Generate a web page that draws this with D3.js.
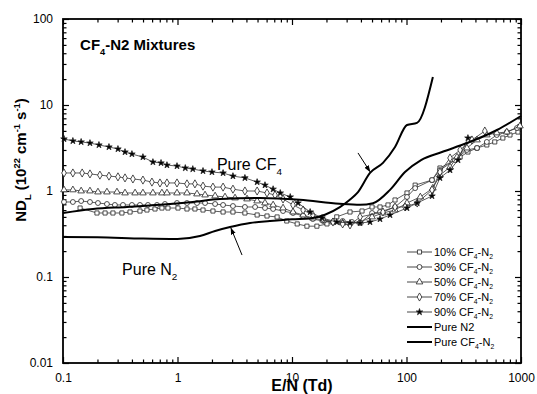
<!DOCTYPE html>
<html>
<head>
<meta charset="utf-8">
<script src="https://cdn.jsdelivr.net/npm/d3@7"></script>
<style>
  body { margin: 0; background: #fff; }
  svg { display: block; }
  text { font-family: "Liberation Sans", Arial, sans-serif; fill: #000; }
</style>
</head>
<body>
<div id="chart"></div>
<script>
// E/N (Td) and ND_L (1e22 cm^-1 s^-1)
const en10 = [0.141,0.198,0.233,0.273,0.327,0.385,0.470,0.541,0.636,0.731,0.825,1.01,1.21,1.42,1.67,2.04,2.50,3.05,3.88,4.96,6.05,7.41,9.0,11.1,13.5,16.5,20.2,24.6,32.1,40.9,50.0,58.7,68.9,79.4,101,119,167,196,294,344,413,503,590,694,801,941];
const nd10 = [0.634,0.555,0.555,0.555,0.555,0.570,0.585,0.601,0.618,0.634,0.634,0.634,0.618,0.618,0.601,0.585,0.570,0.570,0.555,0.526,0.512,0.499,0.448,0.414,0.39,0.39,0.414,0.50,0.570,0.585,0.652,0.652,0.688,0.786,0.948,1.17,1.34,1.85,2.48,2.84,3.16,3.43,3.72,4.13,4.48,4.85];

const en30 = [0.102,0.122,0.144,0.172,0.202,0.242,0.284,0.334,0.400,0.470,0.552,0.662,0.777,0.990,1.21,1.48,1.74,2.13,2.50,3.05,3.88,4.76,5.81,6.84,8.35,10.2,12.5,15.2,18.7,22.8,27.7,33.4,39.3,50.0,58.7,79.4,101,119,167,196,265,337,413,503,614,752,922];
const nd30 = [0.745,0.745,0.765,0.745,0.725,0.706,0.688,0.688,0.688,0.688,0.688,0.688,0.706,0.725,0.725,0.725,0.725,0.706,0.688,0.669,0.652,0.652,0.634,0.618,0.585,0.555,0.512,0.472,0.448,0.436,0.448,0.436,0.425,0.555,0.570,0.652,0.852,1.08,1.34,1.75,2.29,3.00,3.16,3.72,4.48,4.85,5.40];

const en50 = [0.102,0.122,0.144,0.172,0.202,0.242,0.296,0.348,0.426,0.499,0.610,0.731,0.809,0.990,1.21,1.48,1.74,2.13,2.60,3.18,4.05,4.96,5.81,6.84,8.35,10.2,12.5,15.2,18.7,22.8,27.7,39.3,50.0,62.3,79.4,101,132,170,196,240,276,337,413,503,614,752,979];
const nd50 = [1.03,1.03,1.00,1.00,0.973,0.973,0.973,0.948,0.948,0.948,0.948,0.948,0.948,0.948,0.948,0.923,0.898,0.875,0.852,0.829,0.807,0.765,0.725,0.688,0.634,0.570,0.526,0.485,0.460,0.436,0.425,0.436,0.499,0.555,0.601,0.725,0.852,1.08,1.53,1.90,2.48,3.16,3.92,4.48,4.73,4.85,5.70];

const en70 = [0.102,0.122,0.147,0.172,0.210,0.252,0.302,0.348,0.408,0.499,0.598,0.703,0.809,0.990,1.21,1.42,1.67,2.04,2.50,3.05,3.88,4.96,6.05,7.11,8.35,10.2,12.5,15.2,18.7,22.8,27.7,32.1,39.3,62.3,79.4,97.1,124,167,196,240,294,373,483];
const nd70 = [1.62,1.62,1.62,1.58,1.53,1.49,1.46,1.42,1.38,1.34,1.27,1.24,1.24,1.24,1.21,1.21,1.14,1.11,1.11,1.05,1.00,1.00,0.948,0.898,0.807,0.688,0.601,0.526,0.472,0.436,0.414,0.403,0.499,0.570,0.652,0.652,0.725,1.03,1.66,2.42,3.00,3.92,4.98];

const en90 = [0.102,0.122,0.144,0.172,0.206,0.252,0.302,0.348,0.400,0.499,0.610,0.718,0.809,0.990,1.17,1.36,1.67,2.00,2.50,3.05,3.88,4.96,5.81,6.84,7.90,9.65,11.3,14.4,18.3,24.6,32.1,39.3,48.0,58.7,71.8,101,124,167,196,240,282,344];
const nd90 = [4.03,3.82,3.72,3.61,3.43,3.25,3.08,2.84,2.69,2.48,2.17,2.12,2.00,1.95,1.85,1.80,1.71,1.66,1.62,1.49,1.42,1.27,1.17,1.05,0.948,0.852,0.725,0.570,0.485,0.436,0.425,0.425,0.436,0.472,0.526,0.634,0.725,0.875,1.42,1.75,2.29,4.13];

const enN2 = [0.1,0.2,0.5,1.0,1.57,2.13,2.88,4.3,6.4,10,14.4,19.4,26.2,32,37.7,48,62.3,79.4,101,123.5,170];
const ndN2 = [0.292,0.29,0.28,0.277,0.30,0.343,0.381,0.425,0.448,0.47,0.48,0.53,0.65,0.79,0.97,1.62,2.12,3.25,5.85,6.2,21.2];

const enCF4 = [0.1,0.183,0.362,0.703,1.36,2.35,5.25,11.7,26,39.3,51,71.8,97,134,204,337,617,1000];
const ndCF4 = [0.555,0.618,0.652,0.69,0.745,0.807,0.83,0.79,0.71,0.69,0.72,1.03,1.66,2.29,2.84,3.61,5.12,7.45];

const xTicks = [0.1, 1, 10, 100, 1000];
const yTicks = [0.01, 0.1, 1, 10, 100];

const width = 537, height = 394;
const margin = {top: 19, right: 16, bottom: 31, left: 63};

const svg = d3.select("#chart").append("svg")
  .attr("width", width).attr("height", height);

const x = d3.scaleLog().domain([0.1, 1000]).range([margin.left, width - margin.right]);
const y = d3.scaleLog().domain([0.01, 100]).range([height - margin.bottom, margin.top]);

// minor ticks 2..9 in every decade
function minors(lo, hi) {
  var out = [];
  for (var d = lo; d < hi; d *= 10)
    for (var k = 2; k <= 9; k++) out.push(d * k);
  return out;
}
const fmt = d3.format("~g");

// text with sub/superscripts: parts = [[string, "" | "sub" | "sup"], ...]
function rich(sel, parts, size) {
  var off = 0;
  parts.forEach(function(p) {
    var target = p[1] === "sub" ? size * 0.3 : p[1] === "sup" ? -size * 0.42 : 0;
    sel.append("tspan")
      .attr("dy", target - off)
      .attr("font-size", p[1] ? size * 0.62 : size)
      .text(p[0]);
    off = target;
  });
}

// axes, ticks pointing inward on all four sides
const bottom = height - margin.bottom, right = width - margin.right;
function styleAxis(g) {
  g.select(".domain").remove();
  g.selectAll("line").attr("stroke", "#000").attr("stroke-width", 1.2);
  g.selectAll("text").attr("font-size", 12).attr("fill", "#000")
    .attr("font-family", "'Liberation Sans', Arial, sans-serif");
}
svg.append("g").attr("transform", "translate(0," + bottom + ")")
  .call(d3.axisBottom(x).tickValues(xTicks).tickFormat(fmt).tickSizeInner(-6).tickSizeOuter(0).tickPadding(10))
  .call(styleAxis);
svg.append("g").attr("transform", "translate(0," + bottom + ")")
  .call(d3.axisBottom(x).tickValues(minors(0.1, 1000)).tickFormat("").tickSizeInner(-3.5).tickSizeOuter(0))
  .call(styleAxis);
svg.append("g").attr("transform", "translate(0," + margin.top + ")")
  .call(d3.axisTop(x).tickValues(xTicks).tickFormat("").tickSizeInner(-6).tickSizeOuter(0))
  .call(styleAxis);
svg.append("g").attr("transform", "translate(0," + margin.top + ")")
  .call(d3.axisTop(x).tickValues(minors(0.1, 1000)).tickFormat("").tickSizeInner(-3.5).tickSizeOuter(0))
  .call(styleAxis);
svg.append("g").attr("transform", "translate(" + margin.left + ",0)")
  .call(d3.axisLeft(y).tickValues(yTicks).tickFormat(fmt).tickSizeInner(-6).tickSizeOuter(0).tickPadding(10))
  .call(styleAxis);
svg.append("g").attr("transform", "translate(" + margin.left + ",0)")
  .call(d3.axisLeft(y).tickValues(minors(0.01, 100)).tickFormat("").tickSizeInner(-3.5).tickSizeOuter(0))
  .call(styleAxis);
svg.append("g").attr("transform", "translate(" + right + ",0)")
  .call(d3.axisRight(y).tickValues(yTicks).tickFormat("").tickSizeInner(-6).tickSizeOuter(0))
  .call(styleAxis);
svg.append("g").attr("transform", "translate(" + right + ",0)")
  .call(d3.axisRight(y).tickValues(minors(0.01, 100)).tickFormat("").tickSizeInner(-3.5).tickSizeOuter(0))
  .call(styleAxis);

svg.append("rect")
  .attr("x", margin.left).attr("y", margin.top)
  .attr("width", right - margin.left).attr("height", bottom - margin.top)
  .attr("fill", "none").attr("stroke", "#000").attr("stroke-width", 1.8);

// series
const series = [
  {name: "10%", xs: en10, ys: nd10, sym: d3.symbolSquare, size: 17, fill: "#fff"},
  {name: "30%", xs: en30, ys: nd30, sym: d3.symbolCircle, size: 19, fill: "#fff"},
  {name: "50%", xs: en50, ys: nd50, sym: d3.symbolTriangle, size: 19, fill: "#fff"},
  {name: "70%", xs: en70, ys: nd70, sym: d3.symbolDiamond, size: 19, fill: "#fff"},
  {name: "90%", xs: en90, ys: nd90, sym: d3.symbolStar, size: 13, fill: "#000"}
];

const line = d3.line().x(function(d) { return x(d[0]); }).y(function(d) { return y(d[1]); });
const smooth = d3.line().curve(d3.curveMonotoneX)
  .x(function(d) { return x(d[0]); }).y(function(d) { return y(d[1]); });

series.forEach(function(s) {
  var pts = s.xs.map(function(v, i) { return [v, s.ys[i]]; });
  svg.append("path").datum(pts)
    .attr("fill", "none").attr("stroke", "#333").attr("stroke-width", 0.8)
    .attr("d", line);
  svg.append("g").selectAll("path").data(pts).enter().append("path")
    .attr("transform", function(d) { return "translate(" + x(d[0]) + "," + y(d[1]) + ")"; })
    .attr("d", d3.symbol().type(s.sym).size(s.size))
    .attr("fill", s.fill).attr("stroke", "#222").attr("stroke-width", 0.8);
});

const thick = [
  {xs: enN2, ys: ndN2},
  {xs: enCF4, ys: ndCF4}
];
thick.forEach(function(t) {
  svg.append("path")
    .datum(t.xs.map(function(v, i) { return [v, t.ys[i]]; }))
    .attr("fill", "none").attr("stroke", "#000").attr("stroke-width", 2)
    .attr("stroke-linejoin", "round")
    .attr("d", smooth);
});

// annotations
svg.append("defs").append("marker")
  .attr("id", "ah").attr("viewBox", "0 0 10 10").attr("refX", 9).attr("refY", 5)
  .attr("markerWidth", 7).attr("markerHeight", 7).attr("orient", "auto")
  .append("path").attr("d", "M0,1.5L10,5L0,8.5Z").attr("fill", "#000");

const arrows = [
  {from: [3.66, 0.18], to: [2.93, 0.37]},
  {from: [37.7, 2.77], to: [48, 1.68]}
];
arrows.forEach(function(a) {
  svg.append("line")
    .attr("x1", x(a.from[0])).attr("y1", y(a.from[1]))
    .attr("x2", x(a.to[0])).attr("y2", y(a.to[1]))
    .attr("stroke", "#000").attr("stroke-width", 1)
    .attr("marker-end", "url(#ah)");
});

rich(svg.append("text").attr("x", x(0.141)).attr("y", y(43.6)).attr("font-weight", "bold"),
  [["CF", ""], ["4", "sub"], ["-N2 Mixtures", ""]], 15);
rich(svg.append("text").attr("x", x(2.21)).attr("y", y(1.75)),
  [["Pure CF", ""], ["4", "sub"]], 16);
rich(svg.append("text").attr("x", x(0.328)).attr("y", y(0.105)),
  [["Pure N", ""], ["2", "sub"]], 16);

// axis titles
rich(svg.append("text").attr("x", 302).attr("y", 391)
  .attr("text-anchor", "middle").attr("font-weight", "bold"),
  [["E/N (Td)", ""]], 16);
rich(svg.append("text").attr("transform", "translate(26,160) rotate(-90)")
  .attr("text-anchor", "middle").attr("font-weight", "bold"),
  [["ND", ""], ["L", "sub"], [" (10", ""], ["22", "sup"], [" cm", ""], ["-1", "sup"], [" s", ""], ["-1", "sup"], [")", ""]], 15);

// legend
const legendRows = [
  {label: "10%", s: series[0]},
  {label: "30%", s: series[1]},
  {label: "50%", s: series[2]},
  {label: "70%", s: series[3]},
  {label: "90%", s: series[4]},
  {label: "Pure N2"},
  {label: "Pure CF"}
];
const lg = svg.append("g").attr("transform", "translate(407,252)");
legendRows.forEach(function(r, i) {
  var g = lg.append("g").attr("transform", "translate(0," + (i * 15) + ")");
  g.append("line").attr("x1", 0).attr("x2", 25).attr("y1", 0).attr("y2", 0)
    .attr("stroke", r.s ? "#333" : "#000").attr("stroke-width", r.s ? 0.9 : 2);
  if (r.s) {
    g.append("path").attr("transform", "translate(12.5,0)")
      .attr("d", d3.symbol().type(r.s.sym).size(r.s.size))
      .attr("fill", r.s.fill).attr("stroke", "#222").attr("stroke-width", 0.8);
  }
  var t = g.append("text").attr("x", 27).attr("y", 4);
  if (r.s) rich(t, [[r.label + " CF", ""], ["4", "sub"], ["-N", ""], ["2", "sub"]], 11);
  else if (r.label === "Pure N2") rich(t, [["Pure N2", ""]], 11);
  else rich(t, [["Pure CF", ""], ["4", "sub"], ["-N", ""], ["2", "sub"]], 11);
});
</script>
</body>
</html>
